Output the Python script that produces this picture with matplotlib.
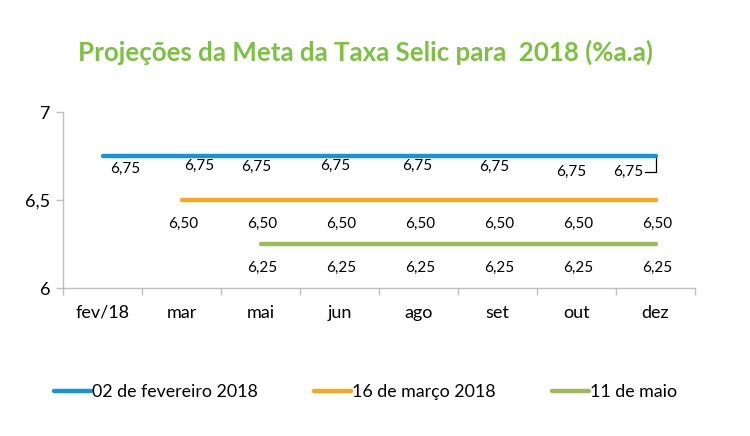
import matplotlib
matplotlib.use("Agg")
import matplotlib.pyplot as plt
from matplotlib.ticker import FixedLocator

plt.rcParams['font.family'] = ['Lato', 'DejaVu Sans']

categories = ["fev/18", "mar", "mai", "jun", "ago", "set", "out", "dez"]
series_names = ["02 de fevereiro 2018", "16 de março 2018", "11 de maio"]
blue_vals = [6.75, 6.75, 6.75, 6.75, 6.75, 6.75, 6.75, 6.75]
orange_vals = [None, 6.50, 6.50, 6.50, 6.50, 6.50, 6.50, 6.50]
green_vals = [None, None, 6.25, 6.25, 6.25, 6.25, 6.25, 6.25]
colors = ["#1296D6", "#F7A823", "#9BBB59"]
title = "Projeções da Meta da Taxa Selic para  2018 (%a.a)"

# manual label positions (category units, value units) as in the reference
blue_lbl_x = [0.29, 1.23, 1.94, 2.94, 3.98, 4.96, 5.93, 6.65]
blue_lbl_y = [6.676, 6.693, 6.688, 6.693, 6.693, 6.688, 6.659, 6.659]
orange_lbl_x = [1.02, 2.02, 3.02, 4.02, 5.02, 6.02, 7.02]
orange_lbl_y = 6.364
green_lbl_x = [2.02, 3.02, 4.02, 5.02, 6.02, 7.02]
green_lbl_y = 6.114

fig = plt.figure(figsize=(7.5, 4.36), dpi=100)
ax = fig.add_axes([63/750, 1-288/436, (695-63)/750, (288-112)/436])

xs = list(range(len(categories)))
for vals, c, name in zip([blue_vals, orange_vals, green_vals], colors, series_names):
    px = [x for x, v in zip(xs, vals) if v is not None]
    py = [v for v in vals if v is not None]
    ax.plot(px, py, color=c, lw=3.2, solid_capstyle='round', label=name)

fs_lbl = 11
def fmt(v):
    return f"{v:.2f}".replace('.', ',')
for v, lx, ly in zip(blue_vals, blue_lbl_x, blue_lbl_y):
    ax.text(lx, ly, fmt(v), ha='center', va='center', fontsize=fs_lbl, color='black')
for v, lx in zip([v for v in orange_vals if v is not None], orange_lbl_x):
    ax.text(lx, orange_lbl_y, fmt(v), ha='center', va='center', fontsize=fs_lbl, color='black')
for v, lx in zip([v for v in green_vals if v is not None], green_lbl_x):
    ax.text(lx, green_lbl_y, fmt(v), ha='center', va='center', fontsize=fs_lbl, color='black')

# leader line for last blue label
lx = blue_lbl_x[-1]
ax.plot([lx + 0.22, lx + 0.36, lx + 0.36], [6.659, 6.659, 6.74], color='black', lw=0.9)

ax.set_xlim(-0.5, len(categories) - 0.5)
ax.set_ylim(6, 7)
ax.set_yticks([6, 6.5, 7])
ax.set_yticklabels(["6", "6,5", "7"], fontsize=13)
ax.set_xticks(xs)
ax.set_xticklabels(categories, fontsize=13)
ax.tick_params(axis='x', length=0, pad=12)
ax.xaxis.set_minor_locator(FixedLocator([i - 0.5 for i in range(len(categories) + 1)]))
ax.tick_params(axis='x', which='minor', length=5, color='#BFBFBF', width=1)
ax.tick_params(axis='y', length=5, color='#BFBFBF', width=1, pad=4)
for s in ['top', 'right']:
    ax.spines[s].set_visible(False)
for s in ['left', 'bottom']:
    ax.spines[s].set_color('#BFBFBF')
    ax.spines[s].set_linewidth(1)

fig.text(365/750, 1-52/436, title, ha='center', va='center', fontsize=18.6,
         fontweight='bold', color='#7DC142')

leg = fig.legend(loc='center', bbox_to_anchor=(365.5/750, 1-392/436), ncol=3, frameon=False,
                 fontsize=12.8, handlelength=2.05, handletextpad=0.05, columnspacing=3.2)

fig.savefig("out.png", dpi=100)
